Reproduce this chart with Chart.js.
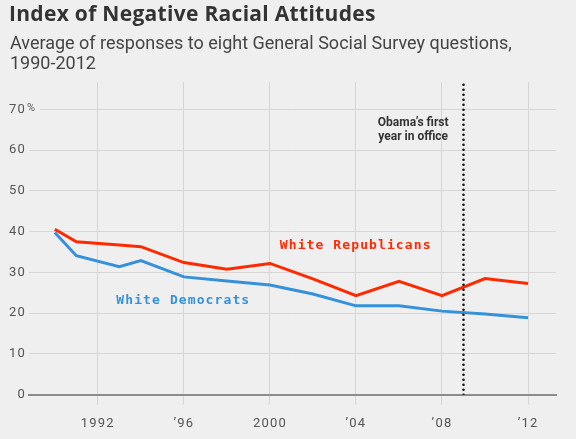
<!DOCTYPE html>
<html>
<head>
<meta charset="utf-8">
<script src="https://cdn.jsdelivr.net/npm/chart.js@4/dist/chart.umd.min.js"></script>
<style>
  html, body { margin: 0; padding: 0; background: #efefef; }
  #wrap { position: relative; width: 576px; height: 439px; overflow: hidden; }
  #title { position: absolute; left: 9px; top: 0px; font: 700 21px/26px "Open Sans", sans-serif; color: #333; letter-spacing: 0.3px; }
  #subtitle { position: absolute; left: 10px; top: 33px; font: 400 18px/20px Roboto, sans-serif; color: #444; }
  canvas { position: absolute; left: 0; top: 0; }
</style>
</head>
<body>
<div id="wrap">
  <canvas id="chart" width="576" height="439"></canvas>
  <div id="title">Index of Negative Racial Attitudes</div>
  <div id="subtitle">Average of responses to eight General Social Survey questions,<br>1990-2012</div>
</div>
<script>
// survey years and index values (percent)
var years = [1990, 1991, 1993, 1994, 1996, 1998, 2000, 2002, 2004, 2006, 2008, 2010, 2012];
var republicans = [40.6, 37.5, 36.7, 36.3, 32.4, 30.8, 32.2, 28.4, 24.3, 27.8, 24.3, 28.5, 27.3];
var democrats = [39.8, 34.1, 31.4, 32.9, 28.9, 27.9, 26.9, 24.7, 21.8, 21.8, 20.5, 19.8, 18.9];

var tickYears = [1992, 1996, 2000, 2004, 2008, 2012];
var tickLabels = ['1992', '\u201996', '2000', '\u201904', '\u201908', '\u201912'];
var yTicks = [0, 10, 20, 30, 40, 50, 60, 70];
var obamaYear = 2009;

var RED = '#ff2a00';
var BLUE = '#3592da';
var yMax = 76.7;

function toPoints(vals) {
  return years.map(function (yr, i) { return { x: yr, y: vals[i] }; });
}

// text labels on the chart
var textPlugin = {
  id: 'texts',
  beforeDraw: function (chart) {
    chart.ctx.letterSpacing = '1.2px';
  },
  afterDraw: function (chart) {
    var ctx = chart.ctx;
    var xs = chart.scales.x, ys = chart.scales.y;
    ctx.save();
    ctx.textBaseline = 'middle';

    // series names
    ctx.letterSpacing = '1.1px';
    ctx.font = 'bold 13px "DejaVu Sans Mono"';
    ctx.textAlign = 'left';
    ctx.fillStyle = RED;
    ctx.fillText('White Republicans', xs.getPixelForValue(2000.46), ys.getPixelForValue(36.5));
    ctx.fillStyle = BLUE;
    ctx.fillText('White Democrats', xs.getPixelForValue(1992.86), ys.getPixelForValue(23.05));

    // obama note
    ctx.letterSpacing = '0px';
    ctx.font = 'bold 12px Roboto';
    ctx.fillStyle = '#333';
    ctx.textAlign = 'center';
    var nx = xs.getPixelForValue(2006.66);
    ctx.fillText('Obama\u2019s first', nx, ys.getPixelForValue(66.6));
    ctx.fillText('year in office', nx, ys.getPixelForValue(63.3));

    // percent sign on top tick
    var y70 = ys.getPixelForValue(70);
    ctx.fillStyle = '#efefef';
    ctx.fillRect(chart.chartArea.left, y70 - 2, 11, 4);
    ctx.font = '11px Roboto';
    ctx.fillStyle = '#555';
    ctx.textAlign = 'left';
    ctx.fillText('%', chart.chartArea.left - 2, y70 - 1);
    ctx.restore();
    ctx.letterSpacing = '0px';
  }
};

var ctx = document.getElementById('chart');
var myChart = new Chart(ctx, {
  type: 'line',
  data: {
    datasets: [{
      label: 'Obama',
      data: [{ x: obamaYear, y: 0 }, { x: obamaYear, y: yMax }],
      borderColor: '#111',
      borderWidth: 2.6,
      borderDash: [0, 5],
      borderCapStyle: 'round',
      pointRadius: 0
    }, {
      label: 'White Republicans',
      data: toPoints(republicans),
      borderColor: RED,
      borderWidth: 3,
      pointRadius: 0,
      tension: 0
    }, {
      label: 'White Democrats',
      data: toPoints(democrats),
      borderColor: BLUE,
      borderWidth: 3,
      pointRadius: 0,
      tension: 0
    }]
  },
  options: {
    responsive: false,
    animation: false,
    layout: { padding: { top: 82, right: 20, left: 0, bottom: 0 } },
    plugins: { legend: { display: false }, tooltip: { enabled: false } },
    scales: {
      x: {
        type: 'linear',
        min: 1988.8,
        max: 2013.3,
        afterBuildTicks: function (s) { s.ticks = tickYears.map(function (v) { return { value: v }; }); },
        afterFit: function (s) { s.height = 44.3; },
        ticks: {
          callback: function (v) { return tickLabels[tickYears.indexOf(v)]; },
          font: { family: 'Roboto', size: 13 },
          color: '#555',
          padding: 11,
          maxRotation: 0,
          autoSkip: false
        },
        grid: { color: '#d6d6d6', lineWidth: 1, tickLength: 10, drawTicks: true },
        border: { color: '#8c8c8c', width: 2 }
      },
      y: {
        min: 0,
        max: yMax,
        afterBuildTicks: function (s) { s.ticks = yTicks.map(function (v) { return { value: v }; }); },
        afterFit: function (s) { s.width = 29; },
        ticks: {
          font: { family: 'Roboto', size: 13 },
          color: '#555',
          padding: 3
        },
        grid: {
          color: function (c) { return c.tick && c.tick.value === 0 ? 'rgba(0,0,0,0)' : '#d6d6d6'; },
          drawTicks: false
        },
        border: { display: false }
      }
    }
  },
  plugins: [textPlugin]
});
</script>
</body>
</html>
